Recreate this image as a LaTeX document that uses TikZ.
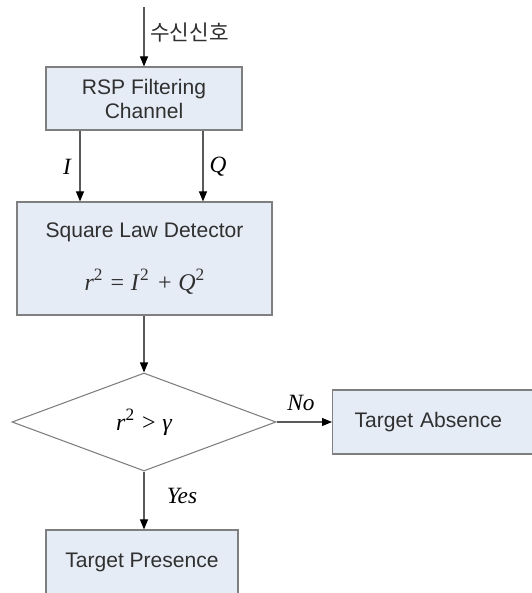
\documentclass[tikz,border=0pt]{standalone}
\usepackage{fontspec}
\setmainfont{Liberation Sans}
\newfontfamily\kfont{Noto Sans CJK KR}
\newfontfamily\tms{Liberation Serif}
\usetikzlibrary{shapes.geometric,arrows.meta}
\definecolor{boxfill}{HTML}{E6ECF6}
\definecolor{boxline}{HTML}{7F7F7F}
\definecolor{txt}{HTML}{303030}
\newcommand\eqsup[1]{\raisebox{0.42em}{\fontsize{13}{13}\selectfont\tms\upshape #1}}
\begin{document}
\begin{tikzpicture}[x=0.75pt,y=-0.75pt,
 box/.style={draw=boxline, fill=boxfill, line width=0.9pt, inner sep=0pt, text=txt, font=\fontsize{15.8}{18}\selectfont, align=center},
 dec/.style={draw=boxline, fill=white, line width=0.8pt, diamond, inner sep=0pt, minimum width=198pt, minimum height=73.5pt},
 arr/.style={draw=black!65, line width=0.8pt, -{Triangle[length=7.5pt,width=6pt,color=black]}},
 lbl/.style={font=\fontsize{17.5}{20}\selectfont\tms\itshape, text=black, inner sep=0pt},
]
\useasboundingbox (0,0) rectangle (532,593);
\begin{scope}
\clip (0,0) rectangle (532,593);
\node[box, minimum width=147pt, minimum height=47.25pt] (rsp) at (144,98.5) {RSP Filtering\\Channel};
\node[box, minimum width=191.25pt, minimum height=84.75pt] (sq) at (144.5,258.5) {Square Law Detector\\[19pt]{\fontsize{18}{20}\selectfont\tms\itshape r\eqsup{2}\hspace{6pt}\upshape =\hspace{5pt}\itshape I\hspace{1pt}\eqsup{2}\hspace{7pt}\upshape +\hspace{5pt}\itshape Q\eqsup{2}}};
\node[dec] (dia) at (144,422) {{\fontsize{18}{20}\selectfont\tms\itshape r\eqsup{2}\hspace{6pt}\upshape >\hspace{5pt}\itshape γ}};
\node[box, anchor=west, minimum height=48pt, text width=138pt, inner xsep=16.5pt, align=left] (abs) at (332,422) {Target Absence};
\node[box, minimum width=144pt, minimum height=48pt] (pres) at (142,562) {Target Presence};

\coordinate (in) at (144,7);
\coordinate (xI) at (80,0);
\coordinate (xQ) at (203,0);
\draw[arr] (in) -- (rsp.north);
\node[font=\kfont\fontsize{16}{18}\selectfont, text=txt, anchor=west, inner sep=0pt] (lbin) at (150,33) {수신신호};
\draw[arr] (rsp.south -| xI) -- (sq.north -| xI);
\draw[arr] (rsp.south -| xQ) -- (sq.north -| xQ);
\node[lbl] (lI) at (67,167) {I};
\node[lbl] (lQ) at (218,167) {Q};
\draw[arr] (sq.south -| dia.north) -- (dia.north);
\draw[arr] (dia.east) -- (abs.west);
\node[lbl] (lNo) at (301,403) {No};
\draw[arr] (dia.south) -- (pres.north -| dia.south);
\node[lbl] (lYes) at (182,496) {Yes};
\end{scope}
\end{tikzpicture}
\end{document}
